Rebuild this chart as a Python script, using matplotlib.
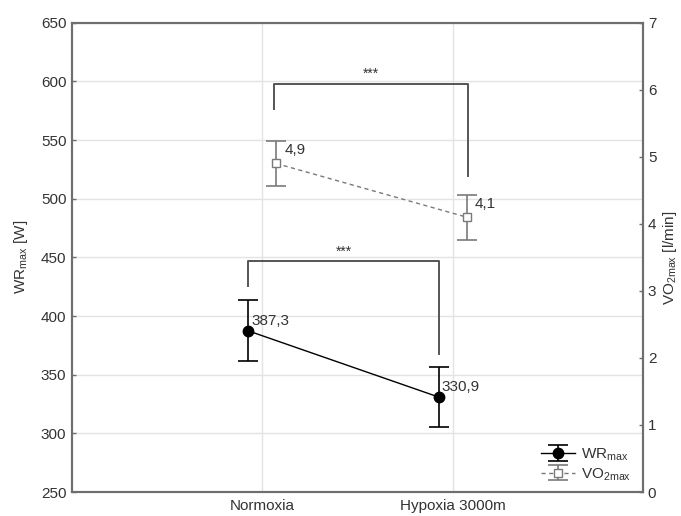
import numpy as np
import matplotlib
matplotlib.use("Agg")
import matplotlib.pyplot as plt

plt.rcParams['font.family'] = ['Liberation Sans', 'DejaVu Sans']

categories = ["Normoxia", "Hypoxia 3000m"]
wr_mean = [387.3, 330.9]
wr_err = [26.0, 25.5]
vo2_mean = [4.9, 4.1]
vo2_err = [0.33, 0.335]
wr_labels = ["387,3", "330,9"]
vo2_labels = ["4,9", "4,1"]
sig_text = "***"

txt = "#333333"
spine = "#6e6e6e"

fig = plt.figure(figsize=(6.81, 5.16), dpi=100)
ax = fig.add_axes([0.1057, 0.0465, 0.8385, 0.9095])
ax2 = ax.twinx()

x = np.arange(len(categories))
dx = 0.073

# WR (left axis)
eb1 = ax.errorbar(x - dx, wr_mean, yerr=wr_err, color="black", marker="o",
                  markersize=7.5, lw=1.0, elinewidth=1.2, capsize=7,
                  capthick=1.2, zorder=5)
for xi, yi, lab in zip(x - dx, wr_mean, wr_labels):
    ax.annotate(lab, (xi, yi), xytext=(2, 2), textcoords="offset points",
                fontsize=11, color=txt, va="bottom", ha="left")

# VO2 (right axis)
grey = "#7a7a7a"
eb2 = ax2.errorbar(x + dx, vo2_mean, yerr=vo2_err, color=grey, marker="s",
                   markersize=6, markerfacecolor="white", markeredgecolor=grey,
                   lw=1.0, ls=(0, (3, 2.5)), elinewidth=1.2, capsize=7,
                   capthick=1.2, zorder=5)
for xi, yi, lab in zip(x + dx, vo2_mean, vo2_labels):
    ax2.annotate(lab, (xi, yi), xytext=(6, 4.5), textcoords="offset points",
                 fontsize=11, color=txt, va="bottom", ha="left")

# significance brackets
bc = "#555555"
ax.plot([x[0] - dx, x[0] - dx, x[1] - dx, x[1] - dx],
        [426, 447, 447, 368], color=bc, lw=1.4)
ax.text((x[0] + x[1]) / 2 - dx, 449, sig_text, ha="center", va="bottom",
        fontsize=10, color=txt)
ax2.plot([x[0] + 0.06, x[0] + 0.06, x[1] + 0.08, x[1] + 0.08],
         [5.72, 6.08, 6.08, 4.72], color=bc, lw=1.4)
ax2.text((x[0] + x[1]) / 2 + 0.07, 6.13, sig_text, ha="center", va="bottom",
         fontsize=10, color=txt)

ax.set_xlim(-1, 2)
ax.set_xticks(x)
ax.set_xticklabels(categories)
ax.set_ylim(250, 650)
ax.set_yticks(np.arange(250, 651, 50))
ax2.set_ylim(0, 7)
ax2.set_yticks(np.arange(0, 8, 1))

ax.grid(True, color="#e3e3e3", lw=1.0)
ax.set_axisbelow(True)

for a in (ax, ax2):
    for s in a.spines.values():
        s.set_color(spine)
        s.set_linewidth(1.5)
    a.tick_params(colors=txt, labelsize=11, direction="in", length=3,
                  width=1, color=spine)
ax.tick_params(axis="x", length=0, pad=5)
ax.tick_params(axis="y", pad=4)

ax.set_ylabel("WR$_{\\mathregular{max}}$ [W]", fontsize=11, color=txt, labelpad=8)
ax2.set_ylabel("VO$_{\\mathregular{2max}}$ [l/min]", fontsize=11, color=txt,
               rotation=90, labelpad=3)

leg = ax2.legend([eb1, eb2], ["WR$_{\\mathregular{max}}$", "VO$_{\\mathregular{2max}}$"],
                 loc="lower right", bbox_to_anchor=(0.995, 0.0), frameon=False,
                 fontsize=11, handlelength=2.2, labelspacing=0.2,
                 handletextpad=0.4, borderaxespad=0.2)
for t in leg.get_texts():
    t.set_color(txt)

fig.savefig("out.png", dpi=100)
